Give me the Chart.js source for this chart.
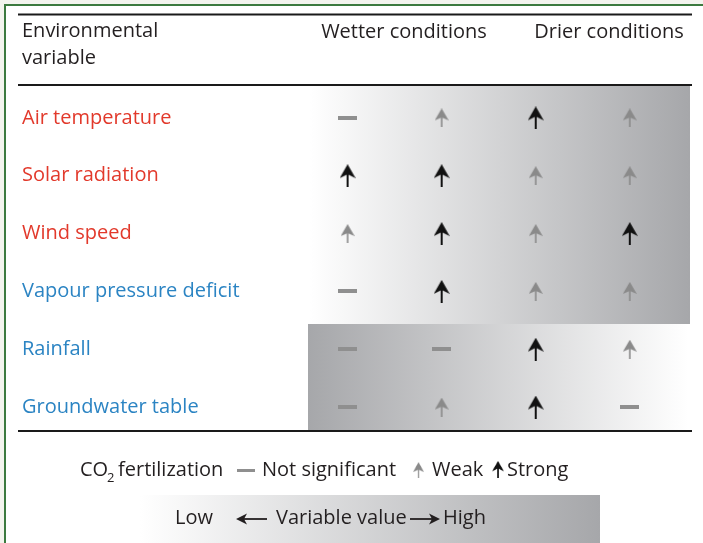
<!DOCTYPE html>
<html>
<head>
<meta charset="utf-8">
<script src="https://cdn.jsdelivr.net/npm/chart.js@4.4.1/dist/chart.umd.min.js"></script>
<style>
  html, body { margin: 0; padding: 0; background: #f3f4ee; }
  #wrap { position: absolute; left: 0; top: 0; width: 703px; height: 543px; }
</style>
</head>
<body>
<div id="wrap"><canvas id="chart" width="703" height="543"></canvas></div>
<script>
// rows of the table
const variables = ['Air temperature', 'Solar radiation', 'Wind speed', 'Vapour pressure deficit', 'Rainfall', 'Groundwater table'];
const variableColors = ['#e2392b', '#e2392b', '#e2392b', '#2b84c3', '#2b84c3', '#2b84c3'];
// columns along the wetter -> drier gradient
const columns = [0, 1, 2, 3];
// CO2 fertilization effect in each column: 'ns' not significant, 'weak', 'strong'
const airTemperature = ['ns', 'weak', 'strong', 'weak'];
const solarRadiation = ['strong', 'strong', 'weak', 'weak'];
const windSpeed = ['weak', 'strong', 'weak', 'strong'];
const vapourPressureDeficit = ['ns', 'strong', 'weak', 'weak'];
const rainfall = ['ns', 'ns', 'strong', 'weak'];
const groundwaterTable = ['ns', 'weak', 'strong', 'ns'];
const effects = [airTemperature, solarRadiation, windSpeed, vapourPressureDeficit, rainfall, groundwaterTable];
const effectTypes = ['ns', 'weak', 'strong'];

const FONT = '"Open Sans", "Liberation Sans", sans-serif';
const INK = '#231f20';
const GREY = '#8a8a8a';
const SHADE = '#a6a7aa';

function makeDash(w, h, color) {
    const c = document.createElement('canvas');
    c.width = w; c.height = h;
    const g = c.getContext('2d');
    g.fillStyle = color;
    g.fillRect(0, 0, w, h);
    return c;
}

function makeArrow(w, h, headH, notch, stem, color) {
    const c = document.createElement('canvas');
    c.width = w; c.height = h;
    const g = c.getContext('2d');
    g.fillStyle = color;
    g.beginPath();
    g.moveTo(w / 2, 0);
    g.lineTo(w, headH);
    g.lineTo(w / 2, notch);
    g.lineTo(0, headH);
    g.closePath();
    g.fill();
    g.fillRect(w / 2 - stem / 2, notch - 1, stem, h - notch + 1);
    return c;
}

const symbols = {
    ns: makeDash(19, 4, '#8f8f8f'),
    weak: makeArrow(14, 19, 12, 9, 1.6, GREY),
    strong: makeArrow(16, 23, 14, 10, 2, '#111111')
};

function buildData(type) {
    const pts = [];
    effects.forEach((row, r) => {
        row.forEach((e, c) => {
            if (e === type) pts.push({ x: columns[c], y: variables[r] });
        });
    });
    return pts;
}

function hline(ctx, x1, x2, y, w, color) {
    ctx.save();
    ctx.strokeStyle = color;
    ctx.lineWidth = w;
    ctx.beginPath();
    ctx.moveTo(x1, y);
    ctx.lineTo(x2, y);
    ctx.stroke();
    ctx.restore();
}

function gradBox(ctx, x1, y1, x2, y2, from, to) {
    const gr = ctx.createLinearGradient(x1, 0, x2, 0);
    gr.addColorStop(0, from);
    gr.addColorStop(1, to);
    ctx.fillStyle = gr;
    ctx.fillRect(x1, y1, x2 - x1, y2 - y1);
}

function lineArrow(ctx, x1, x2, y) {
    // head sits at x2
    const dir = x2 > x1 ? 1 : -1;
    ctx.save();
    ctx.strokeStyle = INK;
    ctx.fillStyle = INK;
    ctx.lineWidth = 1.8;
    ctx.beginPath();
    ctx.moveTo(x1, y);
    ctx.lineTo(x2 - dir * 6, y);
    ctx.stroke();
    ctx.beginPath();
    ctx.moveTo(x2, y);
    ctx.lineTo(x2 - dir * 11, y - 5.5);
    ctx.lineTo(x2 - dir * 8, y);
    ctx.lineTo(x2 - dir * 11, y + 5.5);
    ctx.closePath();
    ctx.fill();
    ctx.restore();
}

const decor = {
    id: 'decor',
    beforeDraw(chart) {
        const ctx = chart.ctx;
        ctx.save();
        // page and frame
        ctx.fillStyle = '#f3f4ee';
        ctx.fillRect(0, 0, 703, 543);
        ctx.fillStyle = '#ffffff';
        ctx.fillRect(6, 6, 697, 537);
        ctx.fillStyle = '#3c7a3f';
        ctx.fillRect(4, 4, 699, 2);
        ctx.fillRect(4, 4, 2, 539);

        // shaded backgrounds of the table body
        gradBox(ctx, 310, 86, 690, 324, '#ffffff', SHADE);
        gradBox(ctx, 308, 324, 688, 430, SHADE, '#ffffff');

        // rules
        hline(ctx, 18, 692, 14.5, 2, '#1a1a1a');
        hline(ctx, 18, 692, 85, 2, '#1a1a1a');
        hline(ctx, 18, 692, 431, 2, '#1a1a1a');

        // header
        ctx.fillStyle = INK;
        ctx.font = '20px ' + FONT;
        ctx.textBaseline = 'middle';
        ctx.textAlign = 'left';
        ctx.fillText('Environmental', 22, 31);
        ctx.fillText('variable', 22, 58);
        ctx.textAlign = 'center';
        ctx.fillText('Wetter conditions', 404, 32);
        ctx.fillText('Drier conditions', 609, 32);

        // legend
        ctx.textAlign = 'left';
        ctx.fillText('CO', 80, 470);
        ctx.font = '13px ' + FONT;
        ctx.fillText('2', 107, 478);
        ctx.font = '20px ' + FONT;
        ctx.fillText('fertilization', 118, 470);
        ctx.drawImage(symbols.ns, 237, 469, 18, 3);
        ctx.fillText('Not significant', 262, 470);
        ctx.drawImage(symbols.weak, 413, 462, 11, 16);
        ctx.fillText('Weak', 432, 470);
        ctx.drawImage(symbols.strong, 492, 461, 12, 17);
        ctx.fillText('Strong', 507, 470);

        // variable value bar
        gradBox(ctx, 140, 495, 600, 543, '#ffffff', SHADE);
        ctx.fillStyle = INK;
        ctx.fillText('Low', 175, 518);
        lineArrow(ctx, 267, 236, 519);
        ctx.fillText('Variable value', 276, 518);
        lineArrow(ctx, 410, 440, 519);
        ctx.fillText('High', 443, 518);
        ctx.restore();
    }
};

new Chart(document.getElementById('chart'), {
    type: 'scatter',
    data: {
        datasets: effectTypes.map(t => ({
            label: t,
            data: buildData(t),
            pointStyle: symbols[t],
            pointRadius: 8
        }))
    },
    options: {
        responsive: false,
        animation: false,
        events: [],
        devicePixelRatio: 1,
        layout: { padding: { left: 22, top: 89, right: 13, bottom: 107 } },
        plugins: { legend: { display: false }, tooltip: { enabled: false } },
        scales: {
            x: { type: 'linear', display: false, min: -0.4, max: 3.64 },
            y: {
                type: 'category',
                labels: variables,
                offset: true,
                grid: { display: false },
                border: { display: false },
                afterFit: s => { s.width = 288; },
                ticks: {
                    autoSkip: false,
                    crossAlign: 'far',
                    padding: 0,
                    font: { family: FONT, size: 20 },
                    color: c => variableColors[c.index]
                }
            }
        }
    },
    plugins: [decor]
});
</script>
</body>
</html>
